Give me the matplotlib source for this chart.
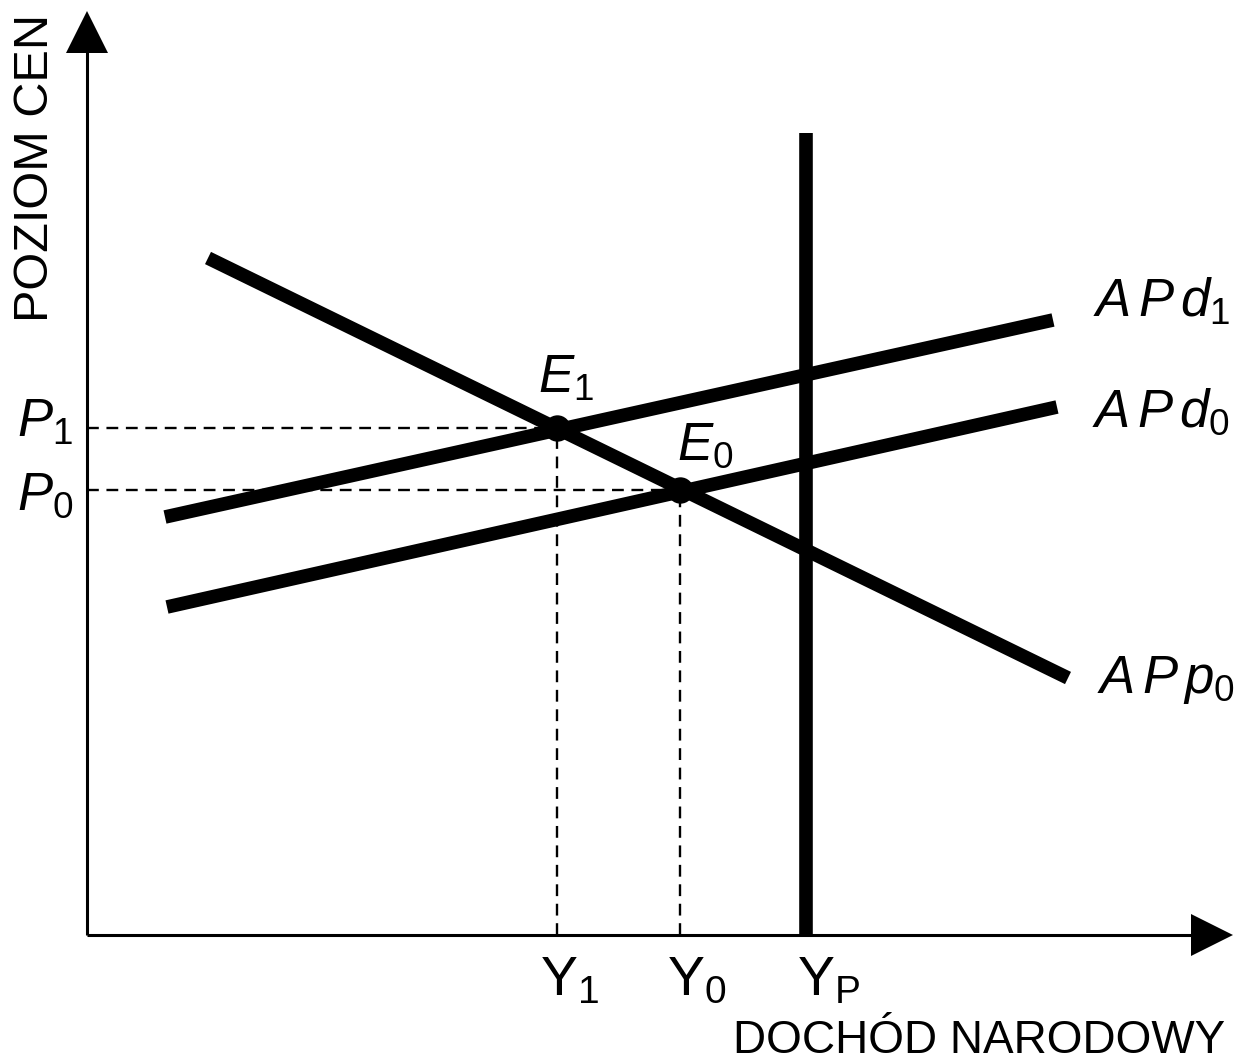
import matplotlib
matplotlib.use("Agg")
import matplotlib.pyplot as plt

# Model values (horizontal: national income, vertical: price level)
y1, y0, yp = 470, 593, 719
p1, p0 = 507, 445

app0_x, app0_y = [121, 981], [677, 257]   # aggregate demand APp0 (falling)
apd1_x, apd1_y = [78, 966], [418, 615]    # aggregate supply APd1
apd0_x, apd0_y = [80, 970], [328, 528]    # aggregate supply APd0
yp_top = 802                              # potential output line height

x_axis_end, y_axis_end = 1125, 903

plt.rcParams["font.family"] = ["Liberation Sans", "DejaVu Sans"]
plt.rcParams["mathtext.fontset"] = "custom"
plt.rcParams["mathtext.rm"] = "Liberation Sans"
plt.rcParams["mathtext.it"] = "Liberation Sans:italic"
plt.rcParams["lines.scale_dashes"] = False

fig = plt.figure(figsize=(12.39, 10.61), dpi=100)
ax = fig.add_axes([0, 0, 1, 1])
ax.set_xlim(-87, 1152)
ax.set_ylim(-126, 935)
ax.axis("off")

# axes with arrow heads
ax.plot([0, 0], [0, y_axis_end - 10], color="black", lw=2.2, solid_capstyle="butt")
ax.plot([0, x_axis_end - 10], [0, 0], color="black", lw=2.2, solid_capstyle="butt")
ax.plot([0], [y_axis_end], marker="^", ms=30, color="black", mew=0)
ax.plot([x_axis_end], [0], marker=">", ms=30, color="black", mew=0)

# guide lines to the equilibrium points
dash = dict(color="black", lw=1.7, dashes=(8.5, 5.5))
ax.plot([0, y1], [p1, p1], **dash)
ax.plot([0, y0], [p0, p0], **dash)
ax.plot([y1, y1], [0, p1], **dash)
ax.plot([y0, y0], [0, p0], **dash)

thick = dict(color="black", lw=9.8, solid_capstyle="butt")
ax.plot(app0_x, app0_y, **thick)
ax.plot(apd1_x, apd1_y, **thick)
ax.plot(apd0_x, apd0_y, **thick)
ax.plot([yp, yp], [0, yp_top], **thick)

ax.plot([y1, y0], [p1, p0], "o", color="black", ms=19, mew=0)

fs = 38
ax.text(-70, 498, r"$P_1$", fontsize=fs, va="baseline", ha="left")
ax.text(-70, 425, r"$P_0$", fontsize=fs, va="baseline", ha="left")
ax.text(451, 542, r"$E_1$", fontsize=fs, va="baseline", ha="left")
ax.text(590, 475, r"$E_0$", fontsize=fs, va="baseline", ha="left")
ax.text(y1 - 17, -60, r"$\mathrm{Y}_1$", fontsize=40, va="baseline", ha="left")
ax.text(y0 - 13, -60, r"$\mathrm{Y}_0$", fontsize=40, va="baseline", ha="left")
ax.text(yp - 9, -60, r"$\mathrm{Y}_\mathrm{P}$", fontsize=40, va="baseline", ha="left")
ax.text(1006, 618, r"$A\,P\,d_1$", fontsize=fs, va="baseline", ha="left")
ax.text(1005, 508, r"$A\,P\,d_0$", fontsize=fs, va="baseline", ha="left")
ax.text(1010, 242, r"$A\,P\,p_0$", fontsize=fs, va="baseline", ha="left")

ax.text(-74, 921, "POZIOM CEN", fontsize=35, rotation=90, ha="left", va="top")
ax.text(1138, -118, "DOCHÓD NARODOWY", fontsize=33, ha="right", va="baseline")

fig.savefig("out.png", dpi=100)
